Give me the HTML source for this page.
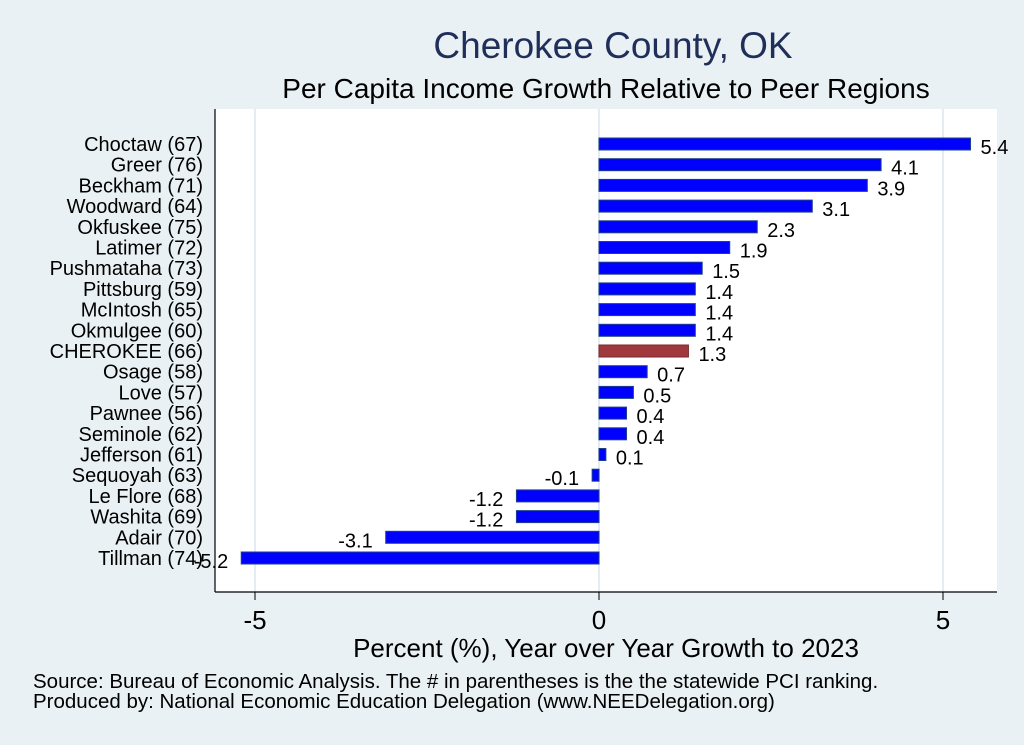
<!DOCTYPE html>
<html><head><meta charset="utf-8"><style>
body{margin:0;background:#eaf1f4;}
svg{display:block;font-family:"Liberation Sans",Arial,sans-serif;}
</style></head><body>
<svg width="1024" height="745" viewBox="0 0 1024 745">
<rect width="1024" height="745" fill="#eaf1f4"/>
<text x="613" y="58" text-anchor="middle" font-size="37" fill="#1f2f5a">Cherokee County, OK</text>
<text x="606" y="98" text-anchor="middle" font-size="28" fill="#000">Per Capita Income Growth Relative to Peer Regions</text>
<rect x="215" y="109" width="782" height="483" fill="#fff"/>
<g id="grid"></g>
<g id="bars"></g>
<line x1="215" y1="109" x2="215" y2="592" stroke="#000" stroke-width="1.2"/>
<line x1="215" y1="592" x2="997" y2="592" stroke="#000" stroke-width="1.2"/>
<g id="xticks"></g>
<text x="606" y="657" text-anchor="middle" font-size="26" fill="#000">Percent (%), Year over Year Growth to 2023</text>
<text x="33" y="688" font-size="20.5" fill="#000">Source: Bureau of Economic Analysis. The # in parentheses is the the statewide PCI ranking.</text>
<text x="33" y="708" font-size="20.5" fill="#000">Produced by: National Economic Education Delegation (www.NEEDelegation.org)</text>
</svg>
<script>
const categories=["Choctaw (67)","Greer (76)","Beckham (71)","Woodward (64)","Okfuskee (75)","Latimer (72)","Pushmataha (73)","Pittsburg (59)","McIntosh (65)","Okmulgee (60)","CHEROKEE (66)","Osage (58)","Love (57)","Pawnee (56)","Seminole (62)","Jefferson (61)","Sequoyah (63)","Le Flore (68)","Washita (69)","Adair (70)","Tillman (74)"];
const values=[5.4,4.1,3.9,3.1,2.3,1.9,1.5,1.4,1.4,1.4,1.3,0.7,0.5,0.4,0.4,0.1,-0.1,-1.2,-1.2,-3.1,-5.2];
const valueLabels=["5.4","4.1","3.9","3.1","2.3","1.9","1.5","1.4","1.4","1.4","1.3","0.7","0.5","0.4","0.4","0.1","-0.1","-1.2","-1.2","-3.1","-5.2"];
const highlight="CHEROKEE (66)";
const xTicks=[-5,0,5];
const NS="http://www.w3.org/2000/svg";
const xs=v=>599+v*68.8;
const yc=i=>144+i*20.7;
function mk(tag,at){const e=document.createElementNS(NS,tag);for(const k in at)e.setAttribute(k,at[k]);return e;}
const grid=document.getElementById('grid'),bars=document.getElementById('bars'),xt=document.getElementById('xticks');
xTicks.forEach(t=>{
 const g=mk('line',{x1:xs(t),x2:xs(t),y1:109,y2:592,stroke:'#e3ecf1','stroke-width':2});
 
 
 grid.appendChild(g);
 const tk=mk('line',{x1:xs(t),x2:xs(t),y1:592,y2:600,stroke:'#000','stroke-width':1});
 
 
 xt.appendChild(tk);
 const tl=mk('text',{x:xs(t),y:629,'text-anchor':'middle','font-size':26});
 tl.textContent=t;
 
 
 xt.appendChild(tl);
});
categories.forEach((c,i)=>{
 const v=values[i],y=yc(i);
 const x0=Math.min(xs(0),xs(v)),w=Math.abs(xs(v)-xs(0));
 const hi=c===highlight;
 const r=mk('rect',{x:x0,y:y-6,width:Math.max(w,1.5),height:12,fill:hi?'#a0393d':'#0000ff',stroke:hi?'#7a2a2e':'#1d3f8c','stroke-width':1});
 
 
 bars.appendChild(r);
 const cl=mk('text',{x:203,y:y+7,'text-anchor':'end','font-size':20});
 cl.textContent=c;
 
 
 bars.appendChild(cl);
 const vl=v>=0?mk('text',{x:xs(v)+10,y:y+10,'font-size':20}):mk('text',{x:xs(v)-13,y:y+10,'font-size':20,'text-anchor':'end'});
 vl.textContent=valueLabels[i];
 
 
 bars.appendChild(vl);
});
</script>
</body></html>
